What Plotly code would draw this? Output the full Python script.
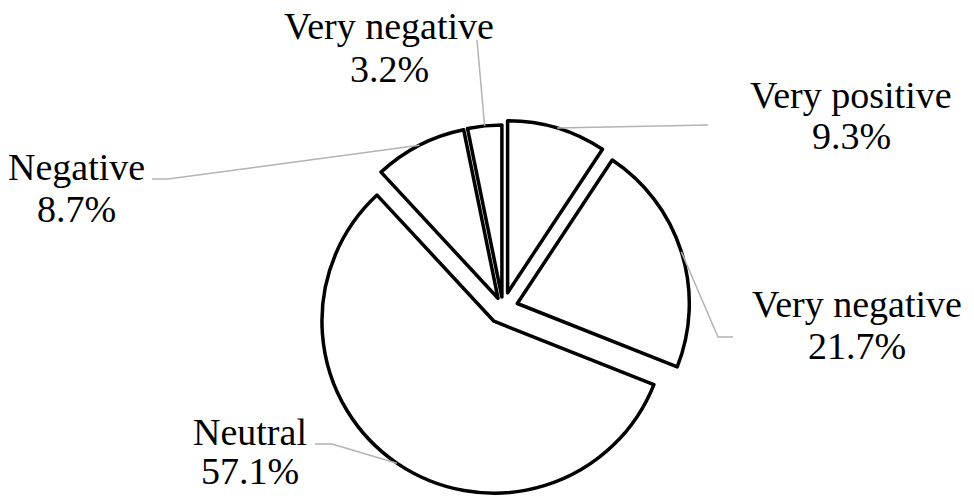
import math
import plotly.graph_objects as go

# ---- data -------------------------------------------------------------
slice_names = ["Very positive", "Very negative", "Neutral", "Negative", "Very negative"]
slice_values = [9.3, 21.7, 57.1, 8.7, 3.2]
pct_labels = ["9.3%", "21.7%", "57.1%", "8.7%", "3.2%"]

# ---- layout constants (pixels) -----------------------------------------
W, H = 974, 496
CX, CY = 503, 308            # pie centre, from top-left
R_PX = 172                   # pie radius
PULL_PX = [16, 15, 16, 11, 11]  # how far each slice is pulled out

FONT = "Liberation Serif"
FSIZE = 38
LEADER_COLOR = "#b3b3b3"

# label placement: centre x, cap-top y of first line, line gap,
# and leader start/elbow points
label_pos = [
    dict(x=851, top=83, gap=41, leader=[(708, 125)]),
    dict(x=857, top=292, gap=42, leader=[(733, 337), (718, 337)]),
    dict(x=250, top=420, gap=39, leader=[(315, 444), (332, 444)]),
    dict(x=76, top=155, gap=42, leader=[(152, 179), (168, 179)]),
    dict(x=389, top=14, gap=43, leader=[(477, 40)]),
]

pulls = [p / R_PX for p in PULL_PX]
max_pull = max(pulls)
half_box = R_PX * (1 + max_pull)

dom_x = [(CX - half_box) / W, (CX + half_box) / W]
dom_y = [(H - CY - half_box) / H, (H - CY + half_box) / H]


def px(x, y):
    return x / W, 1 - y / H


fig = go.Figure(
    go.Pie(
        labels=[f"{n} {i}" for i, n in enumerate(slice_names)],
        values=slice_values,
        sort=False,
        direction="clockwise",
        rotation=0,
        pull=pulls,
        textinfo="none",
        hoverinfo="skip",
        marker=dict(colors=["white"] * len(slice_values),
                    line=dict(color="black", width=3.5)),
        domain=dict(x=dom_x, y=dom_y),
        showlegend=False,
    )
)

# leader anchors sit on each slice's arc at its mid-angle
total = sum(slice_values)
shapes = []
annotations = []
cum = 0.0
for i, v in enumerate(slice_values):
    mid = (cum + v / 2) / total * 2 * math.pi
    cum += v
    dx, dy = math.sin(mid), -math.cos(mid)
    dist = PULL_PX[i] + R_PX
    ax, ay = CX + dist * dx, CY + dist * dy

    pts = label_pos[i]["leader"] + [(ax, ay)]
    path = ""
    for k, (x, y) in enumerate(pts):
        fx, fy = px(x, y)
        path += ("M" if k == 0 else " L") + f" {fx:.5f} {fy:.5f}"
    shapes.append(dict(type="path", path=path, xref="paper", yref="paper",
                       line=dict(color=LEADER_COLOR, width=1.5)))

    lx = label_pos[i]["x"]
    top = label_pos[i]["top"]
    gap = label_pos[i]["gap"]
    for j, txt in enumerate([slice_names[i], pct_labels[i]]):
        fx, fy = px(lx, top + j * gap + 12)
        annotations.append(dict(
            text=txt, x=fx, y=fy, xref="paper", yref="paper",
            xanchor="center", yanchor="middle", showarrow=False,
            font=dict(family=FONT, size=FSIZE, color="black"),
        ))

fig.update_layout(
    width=W, height=H,
    margin=dict(l=0, r=0, t=0, b=0),
    paper_bgcolor="white",
    plot_bgcolor="white",
    shapes=shapes,
    annotations=annotations,
)

fig.write_html("out.html")
